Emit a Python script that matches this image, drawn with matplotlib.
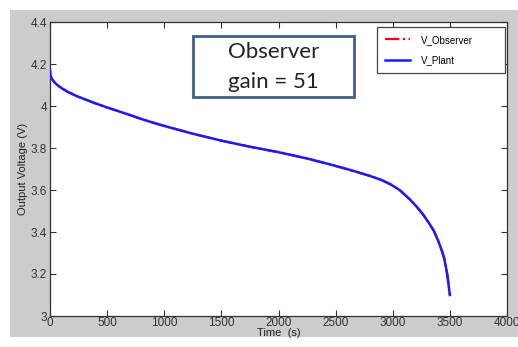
import matplotlib
matplotlib.use("Agg")
import matplotlib.pyplot as plt
from matplotlib.patches import Rectangle

time_s = [0, 3, 15, 40, 70, 110, 160, 230, 300, 400, 500, 600, 700, 800, 900,
          1000, 1250, 1500, 1750, 2000, 2250, 2450, 2630, 2800, 2900, 2980,
          3060, 3150, 3210, 3270, 3320, 3360, 3400, 3430, 3450, 3466, 3478,
          3487, 3494, 3500]
v_plant = [4.17, 4.145, 4.13, 4.112, 4.097, 4.082, 4.066, 4.048, 4.033, 4.012,
           3.993, 3.975, 3.957, 3.938, 3.921, 3.905, 3.868, 3.835, 3.806, 3.78,
           3.75, 3.722, 3.695, 3.667, 3.648, 3.627, 3.60, 3.555, 3.52, 3.48,
           3.44, 3.405, 3.355, 3.31, 3.275, 3.23, 3.195, 3.155, 3.125, 3.10]
v_observer = list(v_plant)

xticks = [0, 500, 1000, 1500, 2000, 2500, 3000, 3500, 4000]
yticks = [3, 3.2, 3.4, 3.6, 3.8, 4, 4.2, 4.4]
ytick_labels = ["3", "3.2", "3.4", "3.6", "3.8", "4", "4.2", "4.4"]

W, H = 518, 347
fig = plt.figure(figsize=(W / 100, H / 100), dpi=100, facecolor="white")
bg = Rectangle((10 / W, 10 / H), 508 / W, 327 / H,
               transform=fig.transFigure, facecolor="#cccccc",
               edgecolor="none", zorder=-5)
fig.patches.append(bg)

ax = fig.add_axes([50 / W, 31 / H, 457 / W, 294 / H])
ax.set_zorder(1)
ax.set_facecolor("white")
ax.plot(time_s, v_observer, color="red", linestyle="-.", linewidth=1.6,
        label="V_Observer", zorder=2)
ax.plot(time_s, v_plant, color="#1a1aff", linestyle="-", linewidth=1.8,
        label="V_Plant", zorder=3)

ax.set_xlim(0, 4000)
ax.set_ylim(3, 4.4)
ax.set_xticks(xticks)
ax.set_xticklabels([str(x) for x in xticks])
ax.set_yticks(yticks)
ax.set_yticklabels(ytick_labels)

fam = ["Liberation Sans", "DejaVu Sans"]
for lab in ax.get_xticklabels() + ax.get_yticklabels():
    lab.set_fontfamily(fam)
    lab.set_fontsize(8.5)
    lab.set_color("#2a2a3a")
ax.tick_params(direction="in", top=True, right=True, length=4, width=0.8,
               colors="#333333", pad=2)
ax.tick_params(axis="x", pad=1)
for s in ax.spines.values():
    s.set_color("#333333")
    s.set_linewidth(0.9)

ax.set_xlabel("Time  (s)", fontsize=8, family=fam, color="#222222", labelpad=-1)
ax.set_ylabel("Output Voltage (V)", fontsize=8, family=fam, color="#222222",
              labelpad=2)

leg = ax.legend(loc="upper left",
                bbox_to_anchor=(327 / 457, 0.8265, 128 / 457, 0.1565),
                mode="expand",
                prop={"family": fam, "size": 7},
                frameon=True, fancybox=False, edgecolor="#444444",
                handlelength=2.6, borderpad=0.8, labelspacing=1.1,
                handletextpad=1.1, framealpha=1, borderaxespad=0)
leg.get_frame().set_linewidth(0.9)

# Observer annotation box
box_x0, box_y0 = 193, 36
box_w, box_h = 161, 61
box = Rectangle((box_x0 / W, (H - box_y0 - box_h) / H), box_w / W, box_h / H,
                transform=fig.transFigure, facecolor="white",
                edgecolor="#3f5f8c", linewidth=2, zorder=5)
fig.patches.append(box)
fig.text((box_x0 + box_w / 2) / W, (H - 52) / H, "Observer", ha="center",
         va="center", fontsize=16, family=["Lato", "DejaVu Sans"],
         color="#222222", zorder=6)
fig.text((box_x0 + box_w / 2) / W, (H - 82) / H, "gain = 51", ha="center",
         va="center", fontsize=16, family=["Lato", "DejaVu Sans"],
         color="#222222", zorder=6)

fig.savefig("out.png", dpi=100, facecolor="white")
